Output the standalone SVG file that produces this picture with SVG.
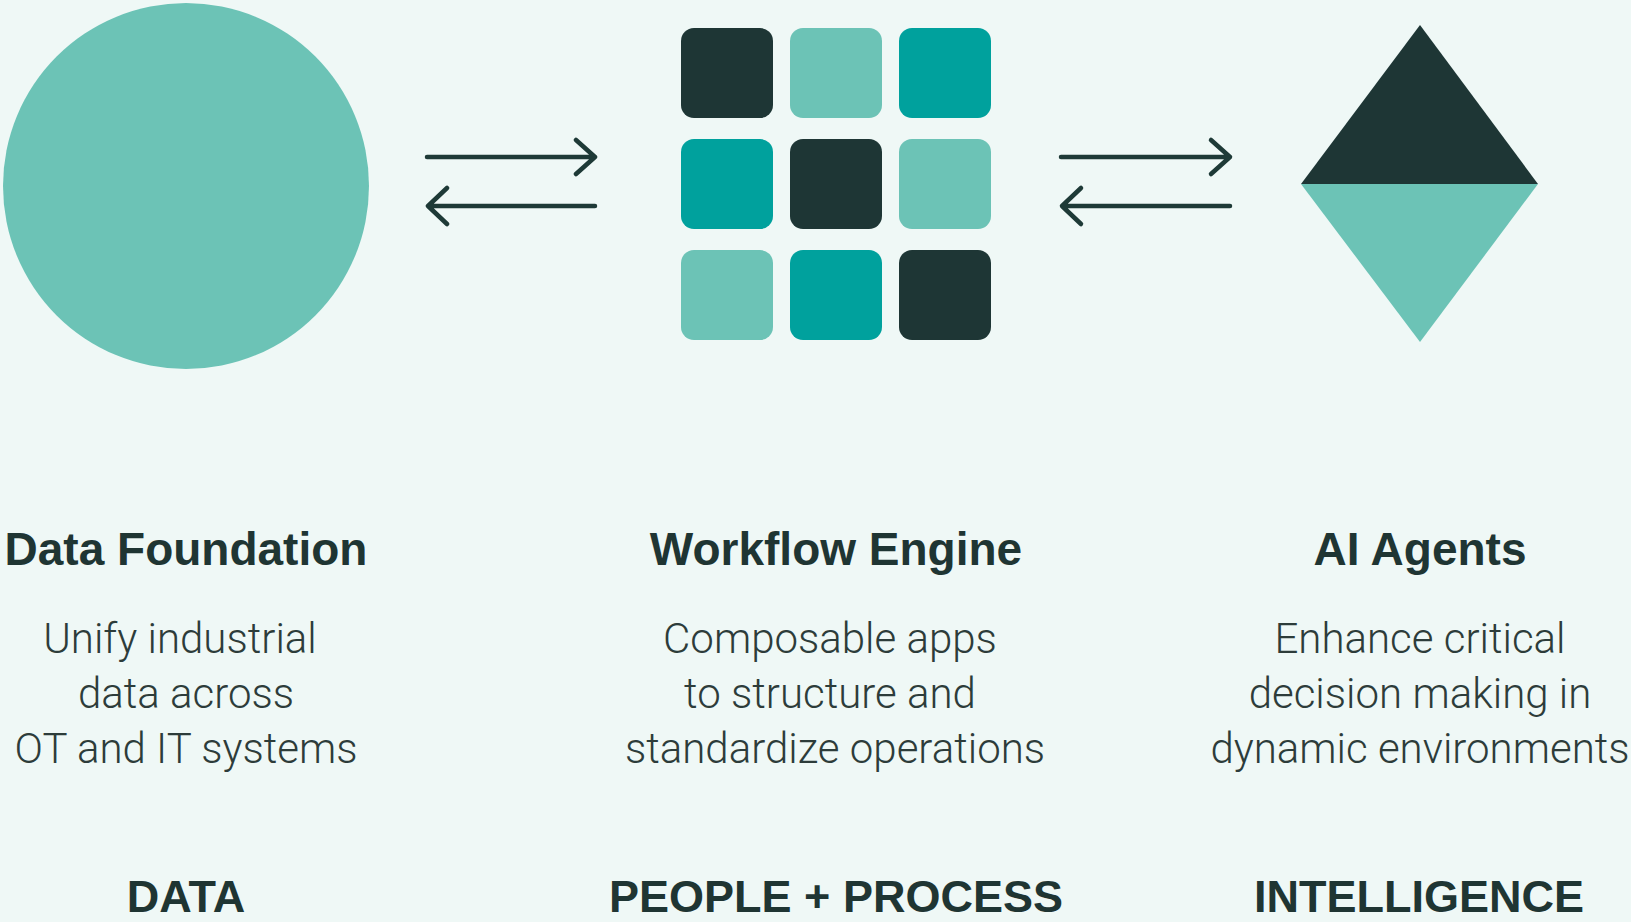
<svg xmlns="http://www.w3.org/2000/svg" width="1631" height="922" viewBox="0 0 1631 922">
  <defs>
    <style>
      .bg { fill: #EFF8F6; }
      .light { fill: #6CC3B6; }
      .teal { fill: #00A19D; }
      .dark { fill: #1E3635; }
      .arrow { fill: none; stroke: #1E3A37; stroke-width: 4.5; stroke-linecap: round; stroke-linejoin: round; }
      .title { font-family: "Liberation Sans", Arial, sans-serif; font-weight: 700; font-size: 46px; fill: #1F3533; text-anchor: middle; }
      .body { font-family: Roboto, "Liberation Sans", sans-serif; font-weight: 300; font-size: 42px; fill: #2D3C3A; text-anchor: middle; }
      .caption { font-family: "Liberation Sans", Arial, sans-serif; font-weight: 700; font-size: 45px; fill: #1F3533; text-anchor: middle; }
    </style>
  </defs>
  <rect class="bg" x="0" y="0" width="1631" height="922"/>

  <g id="data-foundation">
    <circle class="light" cx="186" cy="186" r="183"/>
    <text class="title" x="186" y="565">Data Foundation</text>
    <text class="body" x="180" y="653">Unify industrial</text>
    <text class="body" x="186" y="708">data across</text>
    <text class="body" x="186" y="763">OT and IT systems</text>
    <text class="caption" x="186" y="912">DATA</text>
  </g>

  <g id="workflow-engine">
    <rect class="dark" x="681" y="28" width="92" height="90" rx="13"/>
    <rect class="light" x="790" y="28" width="92" height="90" rx="13"/>
    <rect class="teal" x="899" y="28" width="92" height="90" rx="13"/>
    <rect class="teal" x="681" y="139" width="92" height="90" rx="13"/>
    <rect class="dark" x="790" y="139" width="92" height="90" rx="13"/>
    <rect class="light" x="899" y="139" width="92" height="90" rx="13"/>
    <rect class="light" x="681" y="250" width="92" height="90" rx="13"/>
    <rect class="teal" x="790" y="250" width="92" height="90" rx="13"/>
    <rect class="dark" x="899" y="250" width="92" height="90" rx="13"/>
    <text class="title" x="836" y="565">Workflow Engine</text>
    <text class="body" x="830" y="653">Composable apps</text>
    <text class="body" x="830" y="708">to structure and</text>
    <text class="body" x="835" y="763">standardize operations</text>
    <text class="caption" x="836" y="912">PEOPLE + PROCESS</text>
  </g>

  <g id="ai-agents">
    <polygon class="dark" points="1420,25 1538,184 1301,184"/>
    <polygon class="light" points="1301,184 1538,184 1420,342"/>
    <text class="title" x="1420" y="565">AI Agents</text>
    <text class="body" x="1420" y="653">Enhance critical</text>
    <text class="body" x="1420" y="708">decision making in</text>
    <text class="body" x="1420" y="763">dynamic environments</text>
    <text class="caption" x="1419" y="912">INTELLIGENCE</text>
  </g>

  <g id="connectors">
    <path class="arrow" d="M427,157 H595 M576,140 L595,157 L576,174"/>
    <path class="arrow" d="M595,206 H428 M447,188 L428,206 L447,224"/>
    <path class="arrow" d="M1061,157 H1230 M1211,140 L1230,157 L1211,174"/>
    <path class="arrow" d="M1230,206 H1062 M1081,188 L1062,206 L1081,224"/>
  </g>
</svg>
